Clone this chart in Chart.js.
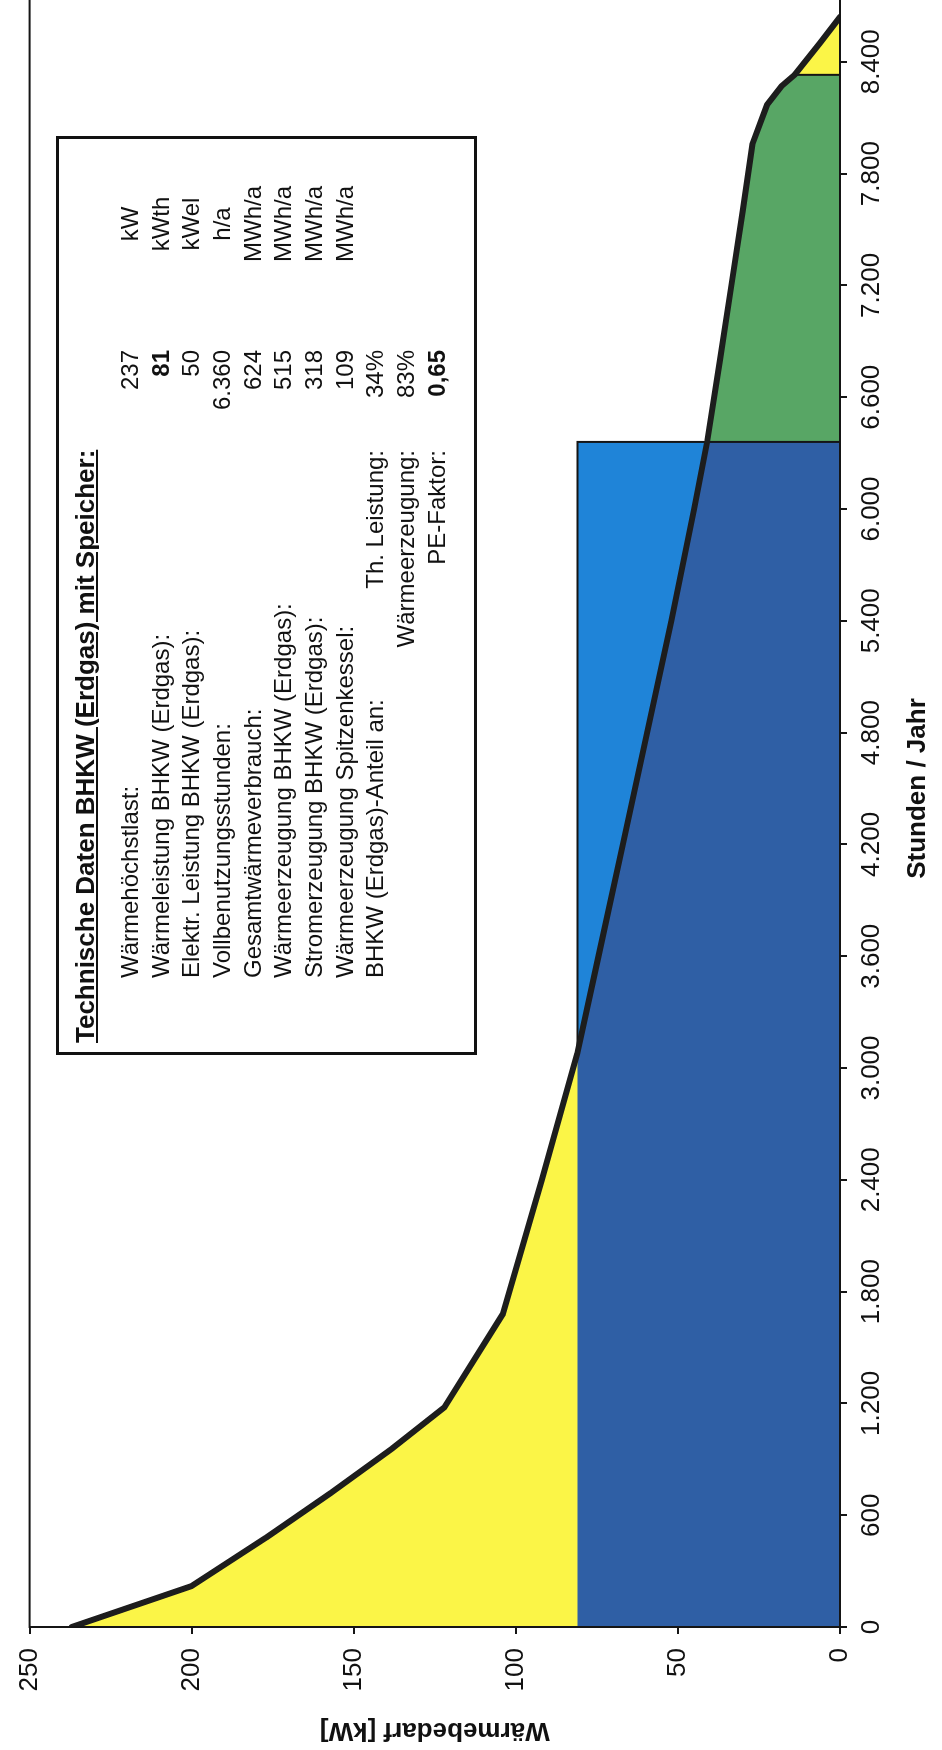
<!DOCTYPE html>
<html lang="de">
<head>
<meta charset="utf-8">
<title>Jahresdauerlinie Wärmebedarf – BHKW mit Speicher</title>
<script src="https://cdn.jsdelivr.net/npm/chart.js@4.4.1/dist/chart.umd.min.js"></script>
<style>
  html, body { margin: 0; padding: 0; background: #fff; }
  body { width: 942px; height: 1750px; overflow: hidden; position: relative; }
  /* the chart is laid out landscape and turned a quarter turn counter-clockwise */
  #turn {
    position: absolute; left: 0; top: 0;
    width: 1800px; height: 942px;
    transform-origin: 0 0;
    transform: translate(0px, 1750px) rotate(-90deg);
    font-family: "Liberation Sans", Arial, sans-serif;
    color: #111;
  }
  #turn canvas { position: absolute; left: 0; top: 0; }
  #infobox {
    position: absolute; left: 695px; top: 56px; width: 919px; height: 421px;
    box-sizing: border-box; border: 3px solid #111; background: #fff;
  }
  .row { position: absolute; height: 28px; line-height: 28px; font-size: 24px; white-space: nowrap; }
  .head { font-size: 26px; font-weight: bold; text-decoration: underline; }
  .b { font-weight: bold; }
</style>
</head>
<body>
<div id="turn">
  <canvas id="chart" width="1800" height="942"></canvas>
  <div id="infobox"></div>
  <div id="info"></div>
</div>
<script>
// Geordnete Jahresdauerlinie des Wärmebedarfs
const loadHours = [0, 220, 480, 720, 960, 1180, 1680, 2400, 3080, 3600, 4200, 4800, 5400, 6000, 6360, 6800, 7200, 7600, 7960, 8170, 8270, 8330, 8500, 8640];
const loadKW    = [237, 200, 177, 157, 138, 122, 104, 92, 81, 74.5, 67, 59.5, 52, 45, 41, 37, 33.5, 30, 27, 22.5, 18, 14, 6.2, 0];

// BHKW-Auslegung
const bhkwPower = 81;      // kWth
const bhkwRunHours = 6360; // h/a
const storageEndHour = 8330;

// Achsen
const hourMax = 9000;
const hourTicks = [0, 600, 1200, 1800, 2400, 3000, 3600, 4200, 4800, 5400, 6000, 6600, 7200, 7800, 8400];
const hourTickLabels = ['0', '600', '1.200', '1.800', '2.400', '3.000', '3.600', '4.200', '4.800', '5.400', '6.000', '6.600', '7.200', '7.800', '8.400'];
const kwTicks = [0, 50, 100, 150, 200, 250];

// Tabelle "Technische Daten"
const infoTitle = 'Technische Daten BHKW (Erdgas) mit Speicher:';
const infoLabels = ['Wärmehöchstlast:', 'Wärmeleistung BHKW (Erdgas):', 'Elektr. Leistung BHKW (Erdgas):', 'Vollbenutzungsstunden:', 'Gesamtwärmeverbrauch:', 'Wärmeerzeugung BHKW (Erdgas):', 'Stromerzeugung BHKW (Erdgas):', 'Wärmeerzeugung Spitzenkessel:', 'BHKW (Erdgas)-Anteil an:', '', ''];
const infoSubLabels = ['', '', '', '', '', '', '', '', 'Th. Leistung:', 'Wärmeerzeugung:', 'PE-Faktor:'];
const infoValues = ['237', '81', '50', '6.360', '624', '515', '318', '109', '34%', '83%', '0,65'];
const infoBold = [false, true, false, false, false, false, false, false, false, false, true];
const infoUnits = ['kW', 'kWth', 'kWel', 'h/a', 'MWh/a', 'MWh/a', 'MWh/a', 'MWh/a', '', '', ''];

const FONT = '"Liberation Sans", Arial, sans-serif';
const INK = '#151515';
const PAGE_W = 1800;

const loadPts = loadHours.map((h, i) => ({ x: h, y: loadKW[i] }));
const bhkwPts = loadPts.filter(p => p.x <= bhkwRunHours).map(p => ({ x: p.x, y: Math.min(p.y, bhkwPower) }));
const storagePts = loadPts.filter(p => p.x >= bhkwRunHours && p.x <= storageEndHour);
const crossHour = loadHours[loadKW.indexOf(bhkwPower)];
const endKW = loadKW[loadHours.indexOf(storageEndHour)];

const frame = {
  id: 'frame',
  afterDatasetsDraw(chart) {
    const { ctx, chartArea: a } = chart;
    ctx.save();
    ctx.strokeStyle = INK;
    ctx.lineWidth = 2;
    ctx.strokeRect(a.left, a.top, a.right - a.left, a.bottom - a.top);
    ctx.restore();
  }
};

new Chart(document.getElementById('chart'), {
  type: 'line',
  data: {
    datasets: [
      { // Wärmebedarf (Linie)
        data: loadPts, borderColor: '#1d1d1d', borderWidth: 6, fill: false, order: 1,
        borderJoinStyle: 'round', borderCapStyle: 'round'
      },
      { // Rahmen Speicherladung
        data: [{ x: crossHour, y: bhkwPower }, { x: bhkwRunHours, y: bhkwPower }, { x: bhkwRunHours, y: 0 }],
        borderColor: INK, borderWidth: 2, fill: false, order: 2
      },
      { // Grenze Speicher / Spitzenkessel
        data: [{ x: storageEndHour, y: 0 }, { x: storageEndHour, y: endKW }],
        borderColor: INK, borderWidth: 2, fill: false, order: 2
      },
      { // BHKW-Wärmeerzeugung
        data: bhkwPts, borderWidth: 0, borderColor: 'rgba(0,0,0,0)', backgroundColor: '#2f5fa5', fill: 'origin', order: 3
      },
      { // Wärme aus Speicher
        data: storagePts, borderWidth: 0, borderColor: 'rgba(0,0,0,0)', backgroundColor: '#58a665', fill: 'origin', order: 4
      },
      { // Spitzenkessel
        data: loadPts, borderWidth: 0, borderColor: 'rgba(0,0,0,0)', backgroundColor: '#fbf547', fill: 'origin', order: 5
      },
      { // Speicherladung
        data: [{ x: 0, y: bhkwPower }, { x: bhkwRunHours, y: bhkwPower }, { x: bhkwRunHours, y: 0 }],
        borderWidth: 0, borderColor: 'rgba(0,0,0,0)', backgroundColor: '#1f84d8', fill: 'origin', order: 6
      }
    ]
  },
  options: {
    responsive: false,
    animation: false,
    devicePixelRatio: 1,
    layout: { padding: { left: 0, top: 23, right: 0, bottom: 0 } },
    elements: { point: { radius: 0 }, line: { tension: 0 } },
    plugins: { legend: { display: false }, tooltip: { enabled: false } },
    scales: {
      x: {
        type: 'linear', position: 'bottom', min: 0, max: hourMax,
        afterBuildTicks: s => { s.ticks = hourTicks.map(v => ({ value: v })); },
        afterFit: s => { s.height = 102; },
        ticks: {
          autoSkip: false, maxRotation: 0, padding: 9, color: '#111',
          font: { family: FONT, size: 26 },
          callback: v => hourTickLabels[hourTicks.indexOf(v)]
        },
        grid: { display: true, drawOnChartArea: false, drawTicks: true, tickLength: 7, color: INK, lineWidth: 2 },
        border: { display: true, color: INK, width: 2 },
        title: { display: true, text: 'Stunden / Jahr', color: '#111', font: { family: FONT, size: 26, weight: 'bold' }, padding: { top: 0, bottom: 9 } }
      },
      y: {
        type: 'linear', position: 'left', min: 0, max: 250,
        afterBuildTicks: s => { s.ticks = kwTicks.map(v => ({ value: v })); },
        afterFit: s => { s.width = 123; },
        ticks: { padding: 14, color: '#111', font: { family: FONT, size: 26 } },
        grid: { display: true, drawOnChartArea: false, drawTicks: true, tickLength: 7, color: INK, lineWidth: 2 },
        border: { display: true, color: INK, width: 2 },
        title: { display: true, text: 'Wärmebedarf [kW]', color: '#111', font: { family: FONT, size: 26, weight: 'bold' }, padding: { top: 4, bottom: 0 } }
      }
    }
  },
  plugins: [frame]
});

// Tabelle setzen
const info = document.getElementById('info');
function addRow(text, cls, center, style) {
  const d = document.createElement('div');
  d.className = 'row ' + (cls || '');
  d.textContent = text;
  d.style.top = (center - 14) + 'px';
  Object.assign(d.style, style);
  info.appendChild(d);
}
addRow(infoTitle, 'head', 85, { left: '707px' });
infoLabels.forEach((lab, i) => {
  const c = 130 + i * 30.65;
  if (lab) addRow(lab, '', c, { left: '772px' });
  if (infoSubLabels[i]) addRow(infoSubLabels[i], '', c, { right: (PAGE_W - 1300) + 'px' });
  addRow(infoValues[i], infoBold[i] ? 'b' : '', c, { right: (PAGE_W - 1400) + 'px' });
  if (infoUnits[i]) addRow(infoUnits[i], '', c, { left: '1426px', width: '200px', textAlign: 'center' });
});
</script>
</body>
</html>
